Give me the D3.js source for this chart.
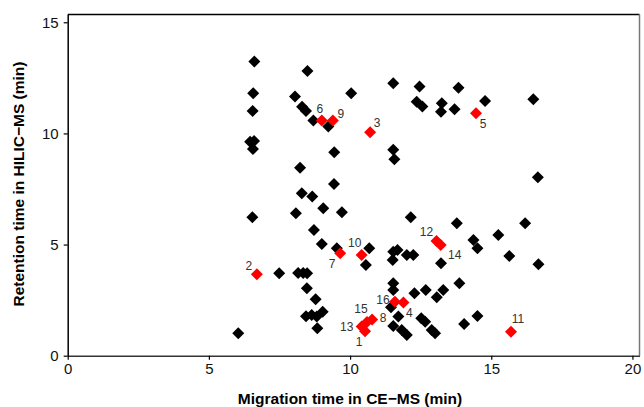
<!DOCTYPE html>
<html>
<head>
<meta charset="utf-8">
<script src="https://cdn.jsdelivr.net/npm/d3@7"></script>
<style>
  body { margin: 0; background: #fff; }
  svg { font-family: "Liberation Sans", Arial, sans-serif; }
</style>
</head>
<body>
<svg></svg>
<script>
let width = 644
let height = 407

// all compounds (black) : migration time CE-MS, retention time HILIC-MS
let otherX = [6.61, 6.57, 6.55, 6.46, 6.60, 6.56, 6.54, 7.49, 8.16, 8.34, 8.48, 8.47, 8.78, 8.44, 8.64, 8.82, 9.03, 8.84, 6.04,
  8.08, 9.05, 9.71, 8.29, 8.66, 8.23, 8.72, 9.00, 9.53, 10.68, 10.56, 12.15, 11.53, 11.68, 11.51, 12.01, 12.24, 13.22,
  11.53, 11.53, 12.28, 12.68, 13.07, 13.30, 11.45, 11.71, 11.53, 11.83, 12.01, 12.52, 12.66, 12.89, 13.01,
  13.78, 14.37, 14.51, 15.25, 16.20, 15.64, 16.67, 13.87, 14.04, 14.51,
  10.04, 11.53, 12.46, 12.36, 12.56, 13.25, 13.22, 11.53, 11.57, 9.44, 9.43, 13.84, 13.70, 14.78, 16.49, 16.65,
  8.49, 8.05, 8.30, 8.44, 8.70, 9.23]
let otherY = [13.23, 11.81, 11.01, 9.62, 9.66, 9.30, 6.23, 3.71, 3.72, 3.72, 3.71, 3.03, 2.54, 1.77, 1.83, 1.76, 1.98, 1.23, 1.01,
  6.41, 6.63, 6.45, 7.31, 7.16, 8.46, 5.66, 5.03, 4.83, 4.83, 4.08, 6.23, 4.68, 4.76, 4.31, 4.53, 4.53, 4.16,
  3.26, 2.96, 2.81, 2.96, 2.63, 2.96, 2.18, 1.76, 1.34, 1.16, 0.93, 1.68, 1.53, 1.16, 1.01,
  5.96, 5.21, 4.83, 5.43, 5.96, 4.49, 4.11, 3.26, 1.43, 1.79,
  11.81, 12.26, 12.11, 11.43, 11.21, 11.36, 10.98, 9.26, 8.84, 9.15, 7.73, 12.06, 11.09, 11.46, 11.54, 8.03,
  12.81, 11.66, 11.20, 11.01, 10.58, 10.31]

// highlighted compounds (red), numbered 1..16
let markedId = [1, 2, 3, 4, 5, 6, 7, 8, 9, 10, 11, 12, 13, 14, 15, 16]
let markedX = [10.53, 6.70, 10.71, 11.89, 14.46, 9.00, 9.65, 10.78, 9.39, 10.41, 15.70, 13.06, 10.41, 13.21, 10.60, 11.59]
let markedY = [1.10, 3.66, 10.05, 2.39, 10.91, 10.58, 4.61, 1.63, 10.58, 4.53, 1.08, 5.16, 1.31, 4.98, 1.52, 2.43]

let xTicks = [0, 5, 10, 15, 20]
let yTicks = [0, 5, 10, 15]

// label placement (px offsets from the marker)
let labelDx = [-6, -8, 7, 6, 7, -2, -8, 11, 8, -7, 7, -10, -15, 14, -6, -12]
let labelDy = [11, -9, -10, 10, 11, -12, 11, -2, -7, -12, -13, -9, 0, 10, -13, -2]

let plotLeft = 67.7, plotRight = 639.5, plotTop = 14.5, plotBottom = 355.7

let svg = d3.select('svg').attr('width', width).attr('height', height)

let xScale = d3.scaleLinear().domain([0, 20.25]).range([plotLeft, plotRight])
let yScale = d3.scaleLinear().domain([0, 15.35]).range([plotBottom, plotTop])

// frame
svg.append('line').attr('x1', plotLeft).attr('x2', plotRight).attr('y1', plotTop).attr('y2', plotTop)
  .attr('stroke', '#000').attr('stroke-width', 1.5)
svg.append('line').attr('x1', plotRight).attr('x2', plotRight).attr('y1', plotTop).attr('y2', plotBottom)
  .attr('stroke', '#777').attr('stroke-width', 1.5)

let xAxis = d3.axisBottom(xScale).tickValues(xTicks).tickSize(4).tickSizeOuter(0).tickPadding(4)
let yAxis = d3.axisLeft(yScale).tickValues(yTicks).tickSize(4).tickSizeOuter(0).tickPadding(5)

let gx = svg.append('g').attr('transform', 'translate(0,' + plotBottom + ')').call(xAxis)
let gy = svg.append('g').attr('transform', 'translate(' + plotLeft + ',0)').call(yAxis)

gx.select('.domain').attr('stroke', '#333').attr('stroke-width', 1.5)
gy.select('.domain').attr('stroke', '#000').attr('stroke-width', 1.5)
svg.selectAll('.tick line').attr('stroke', '#000').attr('stroke-width', 1.2)
svg.selectAll('.tick text').attr('font-size', 15).attr('fill', '#111')
  .attr('font-family', '"Liberation Sans", Arial, sans-serif')

svg.append('text').attr('x', 350).attr('y', 404).attr('text-anchor', 'middle')
  .attr('font-size', 15.5).attr('font-weight', 'bold').text('Migration time in CE\u2212MS (min)')
svg.append('text').attr('transform', 'translate(24,184) rotate(-90)').attr('text-anchor', 'middle')
  .attr('font-size', 15.5).attr('font-weight', 'bold').text('Retention time in HILIC\u2212MS (min)')

let diamond = d3.symbol().type(d3.symbolSquare).size(72)

let others = otherX.map((x, i) => ({ x: x, y: otherY[i] }))
let marked = markedX.map((x, i) => ({ id: markedId[i], x: x, y: markedY[i], dx: labelDx[i], dy: labelDy[i] }))

svg.append('g').selectAll('path')
  .data(others)
  .enter()
  .append('path')
  .attr('d', diamond)
  .attr('fill', '#000')
  .attr('transform', d => 'translate(' + xScale(d.x) + ',' + yScale(d.y) + ') rotate(45)')

svg.append('g').selectAll('path')
  .data(marked)
  .enter()
  .append('path')
  .attr('d', diamond)
  .attr('fill', '#ff0000')
  .attr('transform', d => 'translate(' + xScale(d.x) + ',' + yScale(d.y) + ') rotate(45)')

svg.append('g').selectAll('text')
  .data(marked)
  .enter()
  .append('text')
  .attr('x', d => xScale(d.x) + d.dx)
  .attr('y', d => yScale(d.y) + d.dy)
  .attr('dy', '0.35em')
  .attr('text-anchor', 'middle')
  .attr('font-size', 12)
  .attr('fill', '#333')
  .text(d => d.id)
</script>
</body>
</html>
